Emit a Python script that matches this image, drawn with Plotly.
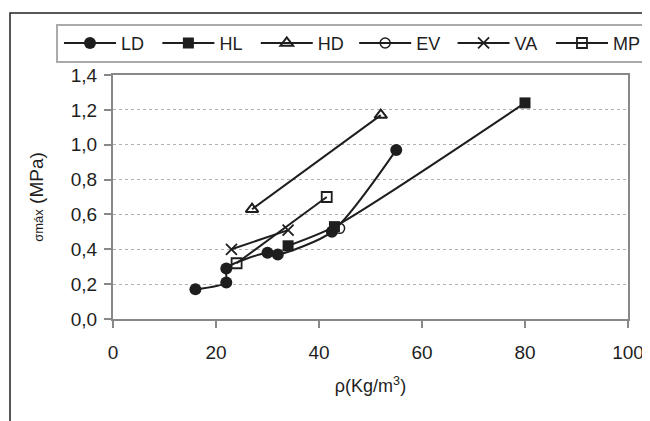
import plotly.graph_objects as go

# Data
LD_x = [16, 22, 22, 30, 32, 42.5, 55]
LD_y = [0.17, 0.21, 0.29, 0.38, 0.37, 0.50, 0.97]
HL_x = [34, 43, 80]
HL_y = [0.42, 0.53, 1.24]
HD_x = [27, 52]
HD_y = [0.63, 1.17]
EV_x = [44]
EV_y = [0.52]
VA_x = [23, 34]
VA_y = [0.40, 0.51]
MP_x = [24, 41.5]
MP_y = [0.32, 0.70]

x_ticks = [0, 20, 40, 60, 80, 100]
y_ticks = [0.0, 0.2, 0.4, 0.6, 0.8, 1.0, 1.2, 1.4]
y_tick_labels = ["0,0", "0,2", "0,4", "0,6", "0,8", "1,0", "1,2", "1,4"]

INK = "#1e1e1e"
FONT = "Liberation Sans, Arial, sans-serif"

fig = go.Figure()

series = [
    ("LD", LD_x, LD_y, dict(symbol="circle", size=12, color=INK), "spline"),
    ("HL", HL_x, HL_y, dict(symbol="square", size=11, color=INK), "spline"),
    ("HD", HD_x, HD_y, dict(symbol="triangle-up-open", size=11, color=INK,
                            line=dict(width=2, color=INK)), "linear"),
    ("EV", EV_x, EV_y, dict(symbol="circle-open", size=10, color=INK,
                            line=dict(width=1.5, color=INK)), "linear"),
    ("VA", VA_x, VA_y, dict(symbol="x-thin-open", size=11, color=INK,
                            line=dict(width=1.8, color=INK)), "linear"),
    ("MP", MP_x, MP_y, dict(symbol="square-open", size=10, color=INK,
                            line=dict(width=1.8, color=INK)), "linear"),
]

for name, xs, ys, marker, shape in series:
    fig.add_trace(go.Scatter(
        x=xs, y=ys, name=name, mode="lines+markers",
        line=dict(color=INK, width=2, shape=shape, smoothing=0.7),
        marker=marker,
    ))

# outer black frame (partially out of view) and legend box
fig.add_shape(type="rect", xref="paper", yref="paper",
              x0=-0.2, x1=1.2, y0=-0.6, y1=1.254,
              line=dict(color="#222", width=1.5), layer="below")
fig.add_shape(type="rect", xref="paper", yref="paper",
              x0=-0.1087, x1=1.2, y0=1.053, y1=1.205,
              line=dict(color="#aaaaaa", width=2), layer="below")

# the page body adds an 8px offset, so margins are shifted by 8px
fig.update_layout(
    width=650, height=421,
    margin=dict(l=105, r=30, t=67, b=110, autoexpand=False),
    paper_bgcolor="white", plot_bgcolor="white",
    font=dict(family=FONT, size=19, color=INK),
    showlegend=True,
    legend=dict(orientation="h", x=-0.1049, y=1.13, xanchor="left", yanchor="middle",
                itemwidth=52,
                entrywidth=31.4, entrywidthmode="pixels",
                font=dict(size=18, color=INK), bgcolor="rgba(0,0,0,0)",
                itemclick=False),
    xaxis=dict(range=[0, 100], tickvals=x_ticks, ticks="outside", ticklen=7,
               tickcolor="#888", tickwidth=1.5, ticklabelstandoff=8,
               showline=True, linecolor="#888", linewidth=2, mirror=True,
               showgrid=False, zeroline=False,
               tickfont=dict(size=19, color=INK),
               title=dict(text="ρ(Kg/m<sup>3</sup>)", font=dict(size=18, color=INK), standoff=18)),
    yaxis=dict(range=[0, 1.4], tickvals=y_ticks, ticktext=y_tick_labels,
               ticks="outside", ticklen=7, tickcolor="#888", tickwidth=1.5,
               ticklabelstandoff=3,
               showline=True, linecolor="#888", linewidth=2, mirror=True,
               showgrid=True, gridcolor="#b0b0b0", gridwidth=1, griddash="dot",
               zeroline=False,
               tickfont=dict(size=19, color=INK),
               title=dict(text="<span style='font-size:13px'>σmáx</span> (MPa)",
                          font=dict(size=19, color=INK), standoff=22)),
)

fig.write_html("out.html")
